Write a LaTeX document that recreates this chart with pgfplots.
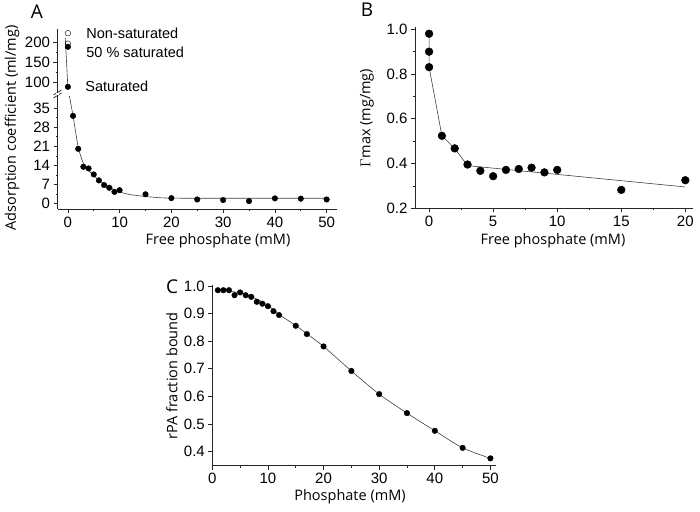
\documentclass[border=0pt]{standalone}
\usepackage{pgfplots}
\pgfplotsset{compat=1.18}
\usepackage{fontspec}
\setmainfont{Liberation Sans}
\newfontfamily\labfont{Open Sans}
\begin{document}
\begin{tikzpicture}[x=1pt,y=1pt]
\useasboundingbox (0,0) rectangle (700,511);
\pgfplotsset{
  panel/.style={
    scale only axis,
    axis line style={-, line width=0.7pt, black!85},
    tick align=outside,
    major tick length=4pt,
    minor tick length=2pt,
    tick style={line width=0.7pt, black!85},
    tick label style={font=\fontsize{15}{16}\selectfont},
    /pgf/number format/assume math mode=true,
    clip=false,
  },
  dots/.style={only marks, mark=*, mark size=2.8pt, black},
  fit/.style={no marks, line width=0.6pt, black!75},
}
% ---------- Panel A: upper part ----------
\begin{axis}[panel,
  at={(57.5pt,418pt)}, anchor=south west,
  width=279.5pt, height=64pt,
  xmin=-2, xmax=52, ymin=72.5, ymax=232.5,
  axis y line*=left, axis x line=none,
  ytick={100,150,200}, minor y tick num=1,
]
\addplot[fit] coordinates {(-0.5,210) (0,88)};
\addplot[only marks, mark=o, mark size=2.8pt, black, mark options={fill=white}] coordinates {(0,222) (0,196)};
\addplot[dots] coordinates {(0,188) (0,88)};
\node[anchor=west, font=\fontsize{14.5}{15}\selectfont] at (axis cs:2.9,221) {Non-saturated};
\node[anchor=west, font=\fontsize{14.5}{15}\selectfont] at (axis cs:2.9,173) {50 \% saturated};
\node[anchor=west, font=\fontsize{14.5}{15}\selectfont] at (axis cs:2.7,88) {Saturated};
\end{axis}
% ---------- Panel A: lower part ----------
\begin{axis}[panel,
  at={(57.5pt,302pt)}, anchor=south west,
  width=279.5pt, height=113pt,
  xmin=-2, xmax=52, ymin=-2, ymax=39.5,
  axis x line*=bottom, axis y line*=left,
  xtick={0,10,20,30,40,50}, minor x tick num=1,
  ytick={0,7,14,21,28,35}, minor y tick num=1,
]
\addplot[fit, smooth] coordinates {(0.3,39.5) (1,32.2) (2,20.8) (3,14.8) (4,12.2) (5,10.3) (6,8.6) (7,7.2) (8,6.0) (10,4.3) (12,3.3) (15,2.6) (18,2.1) (20,2.0) (25,1.95) (50,1.95)};
\addplot[dots] coordinates {
(1,32.2) (2,20.1) (3,13.5) (4,12.9) (5,10.7) (6,8.5) (7,6.8) (8,5.8) (9,4.3) (10,4.9)
(15,3.4) (20,2.0) (25,1.5) (30,1.3) (35,0.9) (40,1.9) (45,1.8) (50,1.5)};
\end{axis}
% axis break marks
\draw[line width=0.7pt, black!85] (53.5,416) -- (61.5,421);
\draw[line width=0.7pt, black!85] (53.5,413) -- (61.5,418);
\fill[white] (56,416.2) rectangle (59,417.8);
% ---------- Panel B ----------
\begin{axis}[panel,
  at={(415pt,302.5pt)}, anchor=south west,
  width=278pt, height=181.5pt,
  xmin=-1.1, xmax=20.6, ymin=0.2, ymax=1.009,
  axis x line*=bottom, axis y line*=left,
  xtick={0,5,10,15,20}, minor x tick num=1,
  ytick={0.2,0.4,0.6,0.8,1.0}, minor y tick num=1,
  yticklabel style={/pgf/number format/.cd, fixed, fixed zerofill, precision=1},
]
\addplot[fit] coordinates {(0,0.979) (0,0.83) (1,0.524) (2,0.468) (3,0.391) (10,0.352) (20,0.296)};
\addplot[only marks, mark=*, mark size=3.9pt, black] coordinates {
(0,0.979) (0,0.899) (0,0.830) (1,0.524) (2,0.468) (3,0.396) (4,0.368) (5,0.344)
(6,0.372) (7,0.376) (8,0.382) (9,0.361) (10,0.372) (15,0.283) (20,0.326)};
\end{axis}
% ---------- Panel C ----------
\begin{axis}[panel,
  at={(212.3pt,45.5pt)}, anchor=south west,
  width=283.7pt, height=180.5pt,
  xmin=0, xmax=51, ymin=0.349, ymax=1.004,
  axis x line*=bottom, axis y line*=left,
  xtick={0,10,20,30,40,50}, minor x tick num=1,
  ytick={0.4,0.5,0.6,0.7,0.8,0.9,1.0},
  yticklabel style={/pgf/number format/.cd, fixed, fixed zerofill, precision=1},
]
\addplot[fit, smooth] coordinates {(1,0.988) (5,0.975) (8,0.953) (10,0.93) (12,0.897) (15,0.857) (17,0.827) (20,0.781) (25,0.692) (30,0.608) (35,0.539) (40,0.475) (45,0.413) (50,0.375)};
\addplot[dots] coordinates {
(1,0.985) (2,0.985) (3,0.985) (4,0.967) (5,0.977) (6,0.967) (7,0.961) (8,0.943) (9,0.936)
(10,0.927) (11,0.909) (12,0.895) (15,0.856) (17,0.826) (20,0.781) (25,0.692) (30,0.608)
(35,0.539) (40,0.475) (45,0.413) (50,0.375)};
\end{axis}
% ---------- labels ----------
\begin{scope}[font=\labfont\fontsize{14.5}{15}\selectfont]
\node at (218,270) {Free phosphate (mM)};
\node at (553,270) {Free phosphate (mM)};
\node at (350,14) {Phosphate (mM)};
\node[rotate=90] at (12,383) {Adsorption coefficient (ml/mg)};
\node[rotate=90] at (367,393) {$\Gamma$max (mg/mg)};
\node[rotate=90] at (172,135) {rPA fraction bound};
\end{scope}
\begin{scope}[font=\labfont\fontsize{19}{20}\selectfont]
\node at (37,499) {A};
\node at (367,501) {B};
\node at (172,224) {C};
\end{scope}
\end{tikzpicture}
\end{document}
